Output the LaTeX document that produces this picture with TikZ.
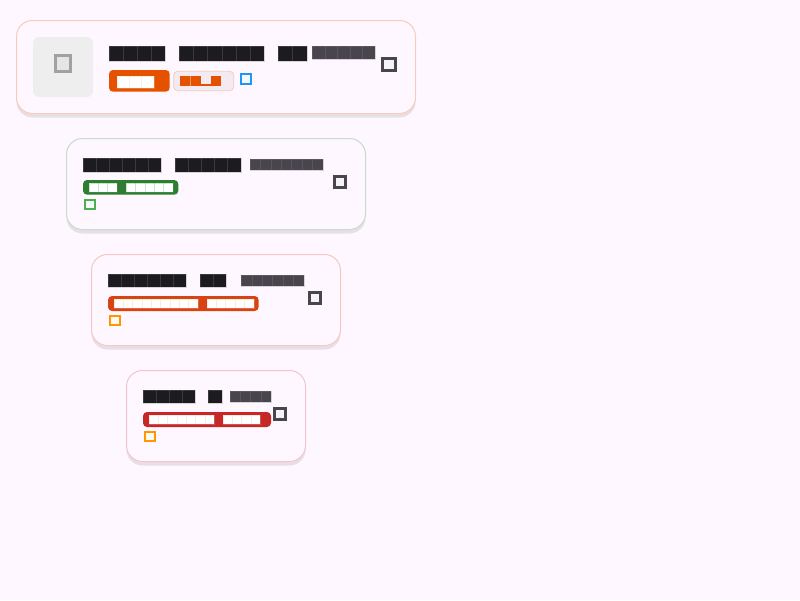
\documentclass[tikz,border=0pt]{standalone}
\definecolor{pagebg}{HTML}{FEF7FF}
\definecolor{shadowc}{HTML}{E6E0E6}
\definecolor{ink}{HTML}{1C1B1F}
\definecolor{subink}{HTML}{49454F}
\definecolor{borderA}{HTML}{F8CBBA}
\definecolor{borderB}{HTML}{C8DCCB}
\definecolor{borderC}{HTML}{F8C8C0}
\definecolor{borderD}{HTML}{F3C5CB}
\definecolor{deeporange}{HTML}{E65100}
\definecolor{softbadge}{HTML}{F3EBF1}
\definecolor{softborder}{HTML}{F5C9B8}
\definecolor{infoblue}{HTML}{2196F3}
\definecolor{okgreen}{HTML}{2E7D32}
\definecolor{lightgreen}{HTML}{4CAF50}
\definecolor{redorange}{HTML}{D84315}
\definecolor{amber}{HTML}{FF9800}
\definecolor{critred}{HTML}{C62828}
\tikzset{
  x=1pt,y=-1pt,
  cardbox/.style={fill=pagebg,line width=1pt,rounded corners=16pt},
  cardshadow/.style={fill=shadowc,rounded corners=16pt},
  pill/.style={rounded corners=4pt},
}
% \tofu{x0}{y0}{y1}{cells}{x1}{colour}{separator}
\newcommand\tofu[7]{%
  \fill[#6] (#1,#2) rectangle (#5,#3);
  \draw[#7,line width=.3pt,opacity=.3] (#1,#2) rectangle (#5,#3);
  \pgfmathsetmacro\tofustep{(#5-#1)/#4}%
  \ifnum#4>1
  \foreach \i in {2,...,#4}{%
    \pgfmathsetmacro\tofux{#1+(\i-1)*\tofustep}%
    \draw[#7,line width=.35pt,opacity=.3] (\tofux,#2) -- (\tofux,#3);
  }%
  \fi
}
% \card{x0}{y0}{x1}{y1}{border}
\newcommand\card[5]{%
  \fill[cardshadow] (#1,#2+4) rectangle (#3,#4+4);
  \draw[cardbox,draw=#5] (#1,#2) rectangle (#3,#4);
}
% \icon{x0}{y0}{x1}{y1}{colour}{width}
\newcommand\icon[6]{%
  \draw[line width=#6pt,draw=#5,fill=#5!6!white] (#1+#6/2,#2+#6/2) rectangle (#3-#6/2,#4-#6/2);
}
\begin{document}
\begin{tikzpicture}
\useasboundingbox (0,0) rectangle (800,600);
\fill[pagebg] (0,0) rectangle (800,600);

% card 1
\card{16.5}{20.5}{415.5}{113.5}{borderA}
\fill[black!6.5,rounded corners=6pt] (33,37) rectangle (93,97);
\draw[line width=3pt,draw=black!37,fill=black!10] (55.2,55.8) rectangle (70.8,71.5);
\tofu{109}{46}{60.7}{4}{165.3}{ink}{gray}
\tofu{179.3}{46}{60.7}{6}{264.3}{ink}{gray}
\tofu{278}{46}{60.7}{2}{306.7}{ink}{gray}
\tofu{312.3}{46.3}{59}{5}{374.7}{subink}{gray}
\icon{381.3}{56.7}{396.7}{72}{subink}{3}
\fill[pill,fill=deeporange] (109,70) rectangle (169.7,91.7);
\tofu{117}{75.7}{88.3}{3}{154}{white}{orange!40}
\draw[pill,fill=softbadge,draw=softborder,line width=.8pt] (173.7,71.3) rectangle (233.7,90.7);
\fill[deeporange] (180,76.3) rectangle (200.7,86.3);
\draw[white,line width=.35pt,opacity=.4] (190.4,76.3) -- (190.4,86.3);
\fill[deeporange] (200.7,84.3) rectangle (211,86.3);
\fill[deeporange] (211,76.3) rectangle (221.3,86.3);
\icon{240}{72.7}{252}{85}{infoblue}{2.1}

% card 2
\card{66.5}{138.5}{365.5}{229.5}{borderB}
\tofu{83}{158}{171.7}{6}{161.3}{ink}{gray}
\tofu{174.7}{158}{171.7}{5}{240.7}{ink}{gray}
\tofu{250}{159}{169.7}{7}{322.7}{subink}{gray}
\icon{333}{175.3}{347}{189}{subink}{3}
\fill[pill,fill=okgreen] (83,180) rectangle (178.3,194.7);
\tofu{89}{183}{192.3}{3}{117}{white}{green!30!gray}
\tofu{126}{183}{192.3}{5}{172.7}{white}{green!30!gray}
\icon{84.3}{199}{95.7}{210}{lightgreen}{2.1}

% card 3
\card{91.5}{254.5}{340.5}{345.5}{borderC}
\tofu{108}{274}{287.3}{6}{186.3}{ink}{gray}
\tofu{199.7}{274}{287.3}{2}{225.7}{ink}{gray}
\tofu{241.3}{275.3}{285.7}{6}{303.7}{subink}{gray}
\icon{308.3}{291}{322}{305}{subink}{3}
\fill[pill,fill=redorange] (108,296) rectangle (258.7,311);
\tofu{114}{299}{308.3}{9}{197.7}{white}{orange!50}
\tofu{206.7}{299}{308.3}{5}{254}{white}{orange!50}
\icon{109.3}{315}{120.7}{326}{amber}{2.1}

% card 4
\card{126.5}{370.5}{305.5}{461.5}{borderD}
\tofu{143}{390}{403.3}{4}{195.3}{ink}{gray}
\tofu{208.3}{390}{403.3}{1}{221.7}{ink}{gray}
\tofu{230}{391}{401.7}{4}{271}{subink}{gray}
\icon{273}{407.3}{287}{421}{subink}{3}
\fill[pill,fill=critred] (143,412) rectangle (271,427);
\tofu{149}{415}{424.3}{7}{214.3}{white}{red!30}
\tofu{223}{415}{424.3}{4}{260}{white}{red!30}
\icon{144.3}{431}{155.7}{442}{amber}{2.1}
\end{tikzpicture}
\end{document}
